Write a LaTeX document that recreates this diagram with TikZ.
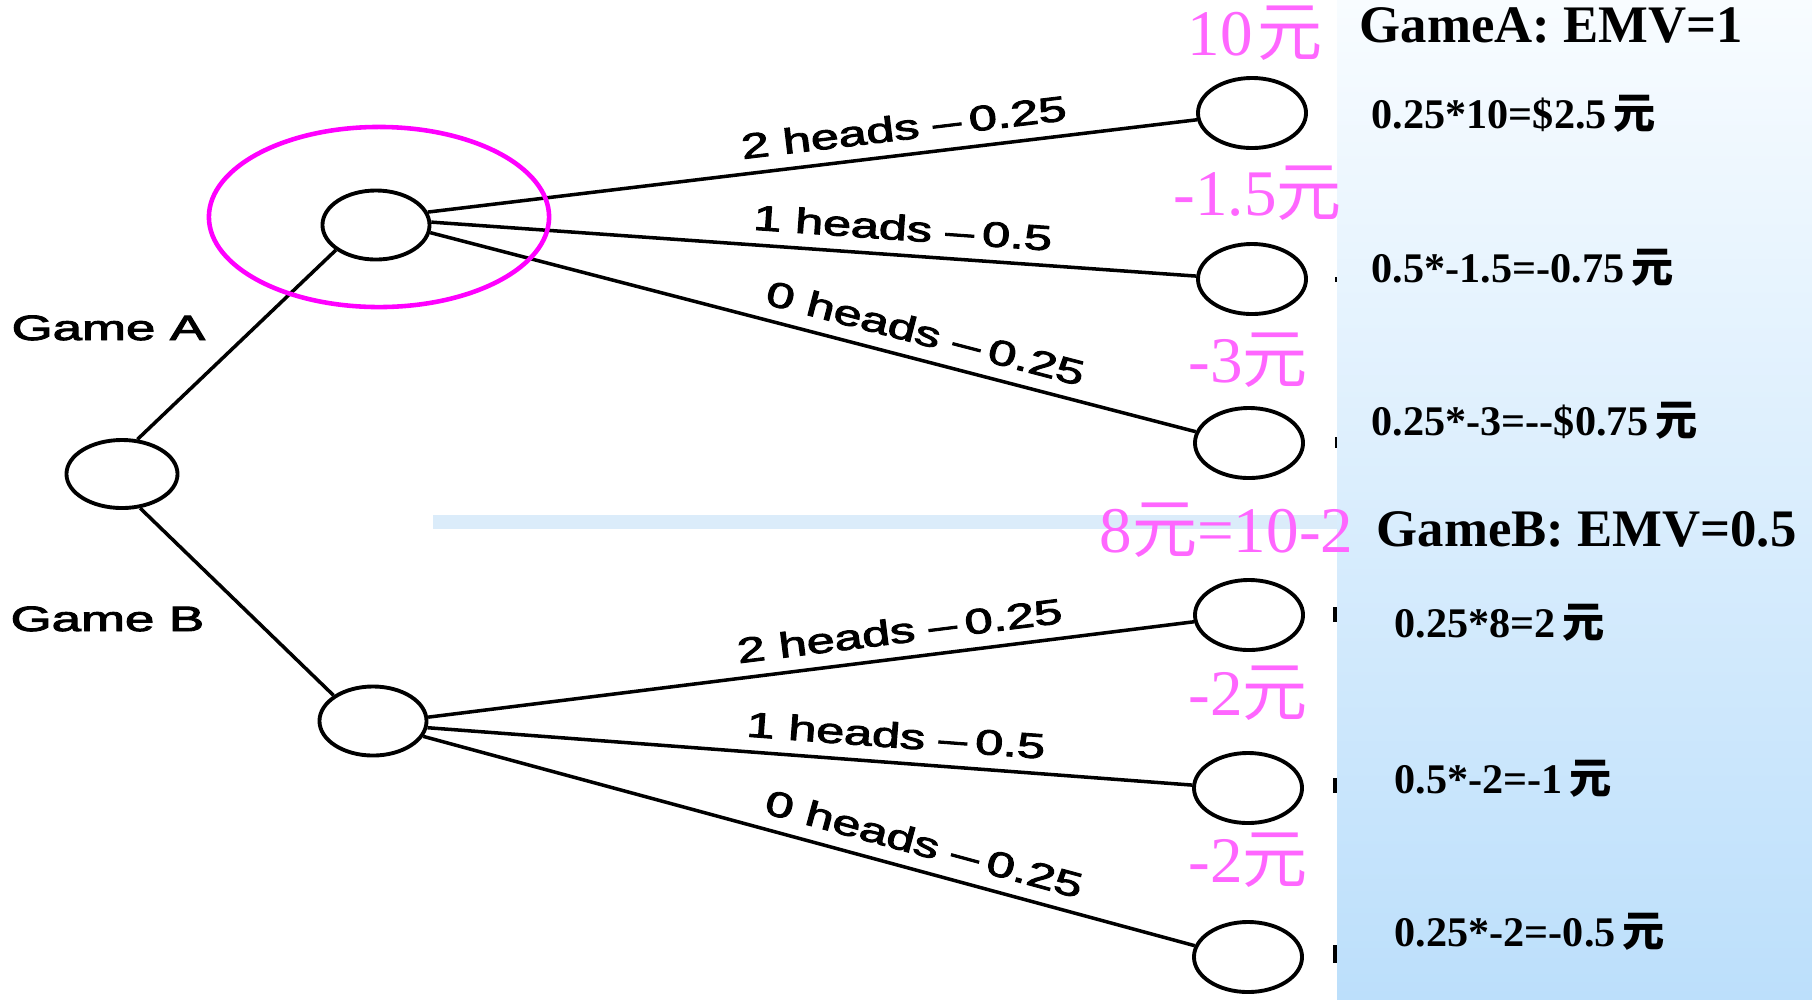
\documentclass[tikz,border=0pt]{standalone}
\usepackage{fontspec}
\setmainfont{Liberation Serif}
\newfontfamily\arial[FakeBold=2.5]{Liberation Sans}
\newfontfamily\cjk{Noto Sans CJK SC}
\usetikzlibrary{shapes.geometric}

\definecolor{pinktxt}{HTML}{FF66FF}
\definecolor{ringmag}{HTML}{FF00FF}
\definecolor{barblue}{HTML}{DBECFA}
\definecolor{paneltop}{HTML}{F8FCFF}
\definecolor{panelbot}{HTML}{BCDFFB}

% widen a label horizontally
\newcommand\hstretch[2]{\scalebox{#1}[1]{#2}}
% yuan sign in the CJK face (inherits the current series)
\newcommand\yuan{{\cjk 元}}

\begin{document}
\begin{tikzpicture}[x=0.01cm, y=-0.01cm,
  chance/.style={ellipse, draw, line width=1.1pt, inner sep=0pt,
                 minimum width=1.08cm, minimum height=0.70cm},
  branch/.style={line width=1pt},
  edgelbl/.style={sloped, above=3.7pt, inner sep=0pt,
                  font=\arial\fontsize{10}{12}\selectfont},
  gamelbl/.style={anchor=base west, inner sep=0pt,
                  font=\arial\fontsize{10}{12}\selectfont},
  payoff/.style={anchor=base west, inner sep=0pt, text=pinktxt,
                 font=\fontsize{18.5}{20}\selectfont},
  emvcalc/.style={anchor=base west, inner sep=0pt,
                  font=\bfseries\fontsize{12}{14}\selectfont},
  emvhead/.style={anchor=base west, inner sep=0pt,
                  font=\bfseries\fontsize{15}{18}\selectfont},
]
% canvas
\fill[white] (0,0) rectangle (1812,999);
\useasboundingbox (0,0) rectangle (1812,999);

% separator bar between the two games
\fill[barblue] (433,515) rectangle (1337,529);

% small marks left at the panel edge
\fill (1335,277) rectangle (1337,282);
\fill (1335,437) rectangle (1337,448);
\fill (1333,607) rectangle (1337,622);
\fill (1333,778) rectangle (1337,793);
\fill (1333,945) rectangle (1337,963);

% right-hand panel with the expected values
\shade[top color=paneltop, bottom color=panelbot] (1337,0) rectangle (1812,999);

% decision tree nodes
\node[chance, minimum width=1.11cm, minimum height=0.68cm] (root) at (122,474) {};
\node[chance, minimum width=1.07cm, minimum height=0.69cm] (ga) at (376,225) {};
\node[chance, minimum width=1.07cm, minimum height=0.69cm] (gb) at (373,721) {};
\node[chance] (a1) at (1252,113) {};
\node[chance] (a2) at (1252,279) {};
\node[chance] (a3) at (1249,443) {};
\node[chance] (b1) at (1249,615) {};
\node[chance] (b2) at (1248,788) {};
\node[chance] (b3) at (1248,957) {};

% branches
\draw[branch] (root.66) -- (ga.212);
\draw[branch] (root.-62) -- (gb.147);

\draw[branch] (ga.14) -- node[edgelbl, pos=0.623] {\hstretch{1.43}{2 heads –\,0.25}} (a1.187);
\draw[branch] (ga.3) -- node[edgelbl, pos=0.614] {\hstretch{1.43}{1 heads –\,0.5}} (a2.177);
\draw[branch] (ga.-8) -- node[edgelbl, pos=0.638] {\hstretch{1.43}{0 heads –\,0.25}} (a3.168);

\draw[branch] (gb.4) -- node[edgelbl, pos=0.62] {\hstretch{1.43}{2 heads –\,0.25}} (b1.187);
\draw[branch] (gb.-7) -- node[edgelbl, pos=0.61] {\hstretch{1.43}{1 heads –\,0.5}} (b2.177);
\draw[branch] (gb.-17) -- node[edgelbl, pos=0.64] {\hstretch{1.43}{0 heads –\,0.25}} (b3.168);

\node[gamelbl] (la) at (11,340) {\hstretch{1.5}{Game A}};
\node[gamelbl] (lb) at (10,631) {\hstretch{1.5}{Game B}};

% highlight around the Game A chance node
\node[ellipse, draw=ringmag, line width=1.3pt, inner sep=0pt,
      minimum width=3.40cm, minimum height=1.80cm] (focus) at (379,217) {};

% payoffs
\node[payoff] (pa1) at (1187,55) {10\kern0.08em\yuan};
\node[payoff] (pa2) at (1173,215) {-1.5\yuan};
\node[payoff] (pa3) at (1188,382) {-3\yuan};
\node[payoff] (pb1) at (1099,552) {8\yuan=10-2};
\node[payoff] (pb2) at (1188,715) {-2\yuan};
\node[payoff] (pb3) at (1188,882) {-2\yuan};

% expected monetary values
\node[emvhead] (ha) at (1359,42) {GameA: EMV=1};
\node[emvcalc] (ca1) at (1371,128) {0.25*10=\$2.5\,\yuan};
\node[emvcalc] (ca2) at (1371,282) {0.5*-1.5=-0.75\,\yuan};
\node[emvcalc] (ca3) at (1371,435) {0.25*-3=-{}-\$0.75\,\yuan};
\node[emvhead] (hb) at (1376,546) {GameB: EMV=0.5};
\node[emvcalc] (cb1) at (1394,637) {0.25*8=2\,\yuan};
\node[emvcalc] (cb2) at (1394,793) {0.5*-2=-1\,\yuan};
\node[emvcalc] (cb3) at (1394,946) {0.25*-2=-0.5\,\yuan};
\end{tikzpicture}
\end{document}
